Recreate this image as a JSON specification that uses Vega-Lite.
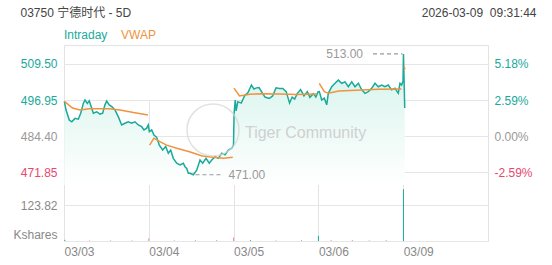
{
  "$schema": "https://vega.github.io/schema/vega-lite/v6.json",
  "width": 424,
  "height": 196,
  "autosize": "none",
  "padding": {"left": 64, "top": 45, "right": 64, "bottom": 24},
  "background": "#ffffff",
  "config": {
    "view": {"stroke": "#e3e3e3"},
    "font": "Liberation Sans",
    "axis": {"labelFont": "Liberation Sans", "labelFontSize": 12, "titleFont": "Liberation Sans, Noto Sans CJK SC", "ticks": false, "domain": false, "labelOverlap": false, "labelBound": false}
  },
  "datasets": {
    "price": [
      {"t": 0.004, "p": 496.5}, {"t": 0.024, "p": 493.5}, {"t": 0.062, "p": 490.0}, {"t": 0.091, "p": 489.4},
      {"t": 0.13, "p": 490.6}, {"t": 0.169, "p": 490.3}, {"t": 0.197, "p": 492.4}, {"t": 0.228, "p": 495.8},
      {"t": 0.248, "p": 497.0}, {"t": 0.275, "p": 495.8}, {"t": 0.298, "p": 496.7}, {"t": 0.327, "p": 494.1},
      {"t": 0.346, "p": 492.4}, {"t": 0.386, "p": 492.9}, {"t": 0.425, "p": 492.1}, {"t": 0.456, "p": 492.4},
      {"t": 0.483, "p": 495.3}, {"t": 0.503, "p": 496.6}, {"t": 0.534, "p": 495.3}, {"t": 0.563, "p": 494.7},
      {"t": 0.601, "p": 493.5}, {"t": 0.64, "p": 491.2}, {"t": 0.68, "p": 488.3}, {"t": 0.719, "p": 488.9},
      {"t": 0.758, "p": 489.4}, {"t": 0.798, "p": 488.9}, {"t": 0.837, "p": 489.4}, {"t": 0.876, "p": 488.3},
      {"t": 0.916, "p": 487.7}, {"t": 0.943, "p": 486.6}, {"t": 0.975, "p": 487.2}, {"t": 0.994, "p": 488.3},
      {"t": 1.006, "p": 486.0}, {"t": 1.034, "p": 486.6}, {"t": 1.061, "p": 484.8}, {"t": 1.093, "p": 484.0},
      {"t": 1.124, "p": 481.3}, {"t": 1.164, "p": 479.6}, {"t": 1.199, "p": 480.8}, {"t": 1.23, "p": 478.5},
      {"t": 1.258, "p": 479.6}, {"t": 1.289, "p": 476.7}, {"t": 1.329, "p": 475.0}, {"t": 1.368, "p": 474.4},
      {"t": 1.407, "p": 475.0}, {"t": 1.427, "p": 473.8}, {"t": 1.447, "p": 473.2}, {"t": 1.466, "p": 471.5},
      {"t": 1.486, "p": 471.5}, {"t": 1.525, "p": 471.0}, {"t": 1.565, "p": 472.6}, {"t": 1.604, "p": 476.1},
      {"t": 1.635, "p": 475.0}, {"t": 1.675, "p": 476.7}, {"t": 1.713, "p": 475.0}, {"t": 1.742, "p": 476.1},
      {"t": 1.781, "p": 477.3}, {"t": 1.82, "p": 476.7}, {"t": 1.86, "p": 478.5}, {"t": 1.899, "p": 477.9},
      {"t": 1.938, "p": 479.6}, {"t": 1.978, "p": 480.2}, {"t": 1.999, "p": 481.3},
      {"t": 2.006, "p": 492.5}, {"t": 2.02, "p": 497.0}, {"t": 2.03, "p": 493.2}, {"t": 2.05, "p": 496.4},
      {"t": 2.09, "p": 495.9}, {"t": 2.13, "p": 498.5}, {"t": 2.17, "p": 499.6}, {"t": 2.21, "p": 502.2},
      {"t": 2.24, "p": 500.8}, {"t": 2.27, "p": 501.2}, {"t": 2.3, "p": 501.3}, {"t": 2.34, "p": 499.4},
      {"t": 2.37, "p": 498.0}, {"t": 2.42, "p": 497.5}, {"t": 2.46, "p": 498.4}, {"t": 2.5, "p": 501.2},
      {"t": 2.54, "p": 501.0}, {"t": 2.58, "p": 501.0}, {"t": 2.62, "p": 499.9}, {"t": 2.66, "p": 495.9},
      {"t": 2.69, "p": 498.0}, {"t": 2.72, "p": 497.3}, {"t": 2.75, "p": 499.2}, {"t": 2.79, "p": 500.6},
      {"t": 2.83, "p": 498.4}, {"t": 2.87, "p": 499.9}, {"t": 2.9, "p": 497.9}, {"t": 2.94, "p": 499.2},
      {"t": 2.97, "p": 498.0}, {"t": 2.995, "p": 499.8},
      {"t": 3.011, "p": 499.9}, {"t": 3.039, "p": 497.0}, {"t": 3.07, "p": 497.6}, {"t": 3.098, "p": 495.3},
      {"t": 3.117, "p": 499.3}, {"t": 3.157, "p": 501.6}, {"t": 3.196, "p": 502.8}, {"t": 3.235, "p": 503.9},
      {"t": 3.275, "p": 502.8}, {"t": 3.314, "p": 503.3}, {"t": 3.353, "p": 501.6}, {"t": 3.393, "p": 503.3},
      {"t": 3.432, "p": 501.6}, {"t": 3.471, "p": 502.8}, {"t": 3.511, "p": 500.5}, {"t": 3.55, "p": 499.3},
      {"t": 3.588, "p": 499.9}, {"t": 3.629, "p": 501.05}, {"t": 3.667, "p": 502.8}, {"t": 3.706, "p": 501.6},
      {"t": 3.746, "p": 502.2}, {"t": 3.785, "p": 501.6}, {"t": 3.824, "p": 502.2}, {"t": 3.864, "p": 500.5},
      {"t": 3.903, "p": 501.05}, {"t": 3.942, "p": 499.3}, {"t": 3.962, "p": 502.8}, {"t": 3.982, "p": 502.2},
      {"t": 3.998, "p": 503.6},
      {"t": 4.003, "p": 513.0}, {"t": 4.018, "p": 494.2}
    ],
    "vwap": [
      {"t": 0.004, "p": 496.5, "day": "03/03"}, {"t": 0.1, "p": 494.2, "day": "03/03"}, {"t": 0.19, "p": 493.5, "day": "03/03"},
      {"t": 0.3, "p": 493.9, "day": "03/03"}, {"t": 0.53, "p": 493.9, "day": "03/03"}, {"t": 0.66, "p": 493.5, "day": "03/03"},
      {"t": 0.82, "p": 492.6, "day": "03/03"}, {"t": 0.99, "p": 491.8, "day": "03/03"},
      {"t": 1.01, "p": 481.3, "day": "03/04"}, {"t": 1.06, "p": 483.7, "day": "03/04"}, {"t": 1.13, "p": 482.5, "day": "03/04"},
      {"t": 1.21, "p": 481.3, "day": "03/04"}, {"t": 1.33, "p": 480.2, "day": "03/04"}, {"t": 1.48, "p": 479.0, "day": "03/04"},
      {"t": 1.63, "p": 477.5, "day": "03/04"}, {"t": 1.76, "p": 477.1, "day": "03/04"}, {"t": 1.88, "p": 476.7, "day": "03/04"},
      {"t": 1.99, "p": 477.1, "day": "03/04"},
      {"t": 2.005, "p": 501.1, "day": "03/05"}, {"t": 2.07, "p": 498.4, "day": "03/05"}, {"t": 2.19, "p": 499.0, "day": "03/05"},
      {"t": 2.35, "p": 499.2, "day": "03/05"}, {"t": 2.54, "p": 499.1, "day": "03/05"}, {"t": 2.74, "p": 498.9, "day": "03/05"},
      {"t": 2.98, "p": 499.1, "day": "03/05"},
      {"t": 3.01, "p": 502.8, "day": "03/06"}, {"t": 3.07, "p": 499.9, "day": "03/06"}, {"t": 3.12, "p": 499.3, "day": "03/06"},
      {"t": 3.24, "p": 500.1, "day": "03/06"}, {"t": 3.51, "p": 500.5, "day": "03/06"}, {"t": 3.71, "p": 500.7, "day": "03/06"},
      {"t": 3.98, "p": 500.8, "day": "03/06"},
      {"t": 4.012, "p": 508.6, "day": "03/09"}, {"t": 4.02, "p": 507.6, "day": "03/09"}
    ],
    "vol": [
      {"t": 0.01, "v": 4, "dir": "up"}, {"t": 0.3, "v": 2, "dir": "down"}, {"t": 0.55, "v": 2, "dir": "down"},
      {"t": 0.8, "v": 2, "dir": "down"}, {"t": 1.0, "v": 9, "dir": "down"}, {"t": 1.3, "v": 2, "dir": "down"},
      {"t": 1.55, "v": 3, "dir": "down"}, {"t": 1.8, "v": 2, "dir": "up"}, {"t": 2.0, "v": 12, "dir": "down"},
      {"t": 2.2, "v": 3, "dir": "up"}, {"t": 2.5, "v": 2, "dir": "down"}, {"t": 2.8, "v": 2, "dir": "up"},
      {"t": 3.0, "v": 18, "dir": "up"}, {"t": 3.15, "v": 3, "dir": "down"}, {"t": 3.4, "v": 3, "dir": "down"},
      {"t": 3.6, "v": 2, "dir": "down"}, {"t": 3.8, "v": 2, "dir": "up"}, {"t": 4.003, "v": 178, "dir": "up"}
    ]
  },
  "encoding": {
    "x": {
      "field": "t", "type": "quantitative",
      "scale": {"domain": [0, 5], "nice": false, "zero": false},
      "axis": {
        "values": [0, 1, 2, 3, 4, 5],
        "labelExpr": "['03/03','03/04','03/05','03/06','03/09',''][datum.value]",
        "labelAlign": "left", "labelPadding": 5, "labelColor": "#888888",
        "grid": true, "gridColor": "#e3e3e3", "title": null, "labelFlush": false
      }
    }
  },
  "layer": [
    {
      "data": {"name": "price"},
      "mark": {"type": "area", "color": {"gradient": "linear", "x1": 0, "y1": 0, "x2": 0, "y2": 1, "stops": [{"offset": 0, "color": "#d3f3ea"}, {"offset": 1, "color": "#ffffff"}]}},
      "encoding": {
        "y": {
          "field": "p", "type": "quantitative",
          "scale": {"domain": [467.434, 516.105], "range": [140, 0], "nice": false, "zero": false},
          "axis": {
            "orient": "left", "values": [471.85, 484.4, 496.95, 509.5], "format": ".2f", "labelPadding": 7,
            "labelColor": {"condition": [{"test": "datum.value > 490", "value": "#1aa99b"}, {"test": "datum.value < 478", "value": "#e8476e"}], "value": "#999999"},
            "grid": true, "gridColor": "#e6e6e6",
            "title": "03750 宁德时代 - 5D", "titleAngle": 0, "titleX": -44, "titleY": -33, "titleAlign": "left", "titleBaseline": "middle",
            "titleFontWeight": "normal", "titleFontSize": 12, "titleColor": "#444444"
          }
        },
        "y2": {"datum": 467.434}
      }
    },
    {
      "data": {"name": "price"},
      "mark": {"type": "line", "strokeWidth": 1.5},
      "encoding": {
        "y": {
          "field": "p", "type": "quantitative",
          "scale": {"domain": [467.434, 516.105], "range": [140, 0], "nice": false, "zero": false},
          "axis": {
            "orient": "right", "values": [471.85, 484.4, 496.95, 509.5],
            "labelExpr": "(datum.value < 484.4 ? '-' : '') + format(abs(datum.value / 484.4 - 1) * 100, '.2f') + '%'",
            "labelPadding": 6,
            "labelColor": {"condition": [{"test": "datum.value > 490", "value": "#1aa99b"}, {"test": "datum.value < 478", "value": "#e8476e"}], "value": "#999999"},
            "grid": false,
            "title": "2026-03-09\u00a0\u00a009:31:44", "titleAngle": 0, "titleX": 48, "titleY": -33, "titleAlign": "right", "titleBaseline": "middle",
            "titleFontWeight": "normal", "titleFontSize": 12, "titleColor": "#444444"
          }
        },
        "color": {
          "datum": "Intraday",
          "scale": {"domain": ["Intraday", "VWAP"], "range": ["#1aa99b", "#f0933e"]},
          "legend": {
            "orient": "none", "legendX": -12, "legendY": -16, "direction": "horizontal", "title": null,
            "symbolSize": 0, "symbolOpacity": 0, "symbolStrokeWidth": 0, "labelOffset": 0, "columnPadding": 1,
            "labelFontSize": 12, "labelFont": "Liberation Sans",
            "labelColor": {"expr": "datum.label == 'VWAP' ? '#f0933e' : '#1aa99b'"}
          }
        }
      }
    },
    {
      "data": {"name": "vwap"},
      "mark": {"type": "line", "strokeWidth": 1.5},
      "encoding": {
        "y": {"field": "p", "type": "quantitative", "scale": {"domain": [467.434, 516.105], "range": [140, 0], "nice": false, "zero": false}, "axis": null},
        "color": {
          "datum": "VWAP",
          "scale": {"domain": ["Intraday", "VWAP"], "range": ["#1aa99b", "#f0933e"]},
          "legend": {
            "orient": "none", "legendX": -12, "legendY": -16, "direction": "horizontal", "title": null,
            "symbolSize": 0, "symbolOpacity": 0, "symbolStrokeWidth": 0, "labelOffset": 0, "columnPadding": 1,
            "labelFontSize": 12, "labelFont": "Liberation Sans",
            "labelColor": {"expr": "datum.label == 'VWAP' ? '#f0933e' : '#1aa99b'"}
          }
        },
        "detail": {"field": "day", "type": "nominal"}
      }
    },
    {
      "data": {"name": "vol"},
      "mark": {"type": "rule", "strokeWidth": 1},
      "encoding": {
        "y": {
          "field": "v", "type": "quantitative",
          "scale": {"domain": [0, 247.64], "range": [196, 124], "nice": false},
          "axis": {
            "orient": "left", "values": [0, 123.82],
            "labelExpr": "datum.value == 0 ? 'Kshares' : '123.82'",
            "labelFlush": true, "labelPadding": 7, "labelColor": "#888888",
            "grid": true, "gridColor": "#e6e6e6", "title": null
          }
        },
        "y2": {"datum": 0},
        "stroke": {"field": "dir", "type": "nominal", "scale": {"domain": ["up", "down"], "range": ["#1aa99b", "#e8899e"]}, "legend": null}
      }
    },
    {
      "data": {"values": [{"t": 3.644, "t2": 3.99, "p": 513.0}, {"t": 1.55, "t2": 1.87, "p": 471.0}]},
      "mark": {"type": "rule", "strokeDash": [4, 3], "strokeWidth": 1.2, "color": "#9a9a9a"},
      "encoding": {
        "x2": {"field": "t2"},
        "y": {"field": "p", "type": "quantitative", "scale": {"domain": [467.434, 516.105], "range": [140, 0], "nice": false, "zero": false}, "axis": null}
      }
    },
    {
      "data": {"values": [{"t": 3.644, "p": 513.0, "label": "513.00"}]},
      "mark": {"type": "text", "align": "right", "baseline": "middle", "dx": -10, "fontSize": 12, "font": "Liberation Sans", "color": "#999999"},
      "encoding": {
        "y": {"field": "p", "type": "quantitative", "scale": {"domain": [467.434, 516.105], "range": [140, 0], "nice": false, "zero": false}, "axis": null},
        "text": {"field": "label"}
      }
    },
    {
      "data": {"values": [{"t": 1.87, "p": 471.0, "label": "471.00"}]},
      "mark": {"type": "text", "align": "left", "baseline": "middle", "dx": 6, "fontSize": 12, "font": "Liberation Sans", "color": "#999999"},
      "encoding": {
        "y": {"field": "p", "type": "quantitative", "scale": {"domain": [467.434, 516.105], "range": [140, 0], "nice": false, "zero": false}, "axis": null},
        "text": {"field": "label"}
      }
    },
    {
      "data": {"values": [{"t": 1.757, "p": 486.56}]},
      "mark": {"type": "point", "shape": "circle", "size": 2704, "filled": false, "stroke": "#d6d6d6", "strokeWidth": 1.5},
      "encoding": {
        "y": {"field": "p", "type": "quantitative", "scale": {"domain": [467.434, 516.105], "range": [140, 0], "nice": false, "zero": false}, "axis": null}
      }
    },
    {
      "data": {"values": [{"t": 2.134, "p": 485.5, "label": "Tiger Community"}]},
      "mark": {"type": "text", "align": "left", "baseline": "middle", "fontSize": 16, "font": "Liberation Sans", "color": "#d0d0d0"},
      "encoding": {
        "y": {"field": "p", "type": "quantitative", "scale": {"domain": [467.434, 516.105], "range": [140, 0], "nice": false, "zero": false}, "axis": null},
        "text": {"field": "label"}
      }
    }
  ],
  "resolve": {"scale": {"y": "independent"}, "axis": {"y": "independent"}}
}
